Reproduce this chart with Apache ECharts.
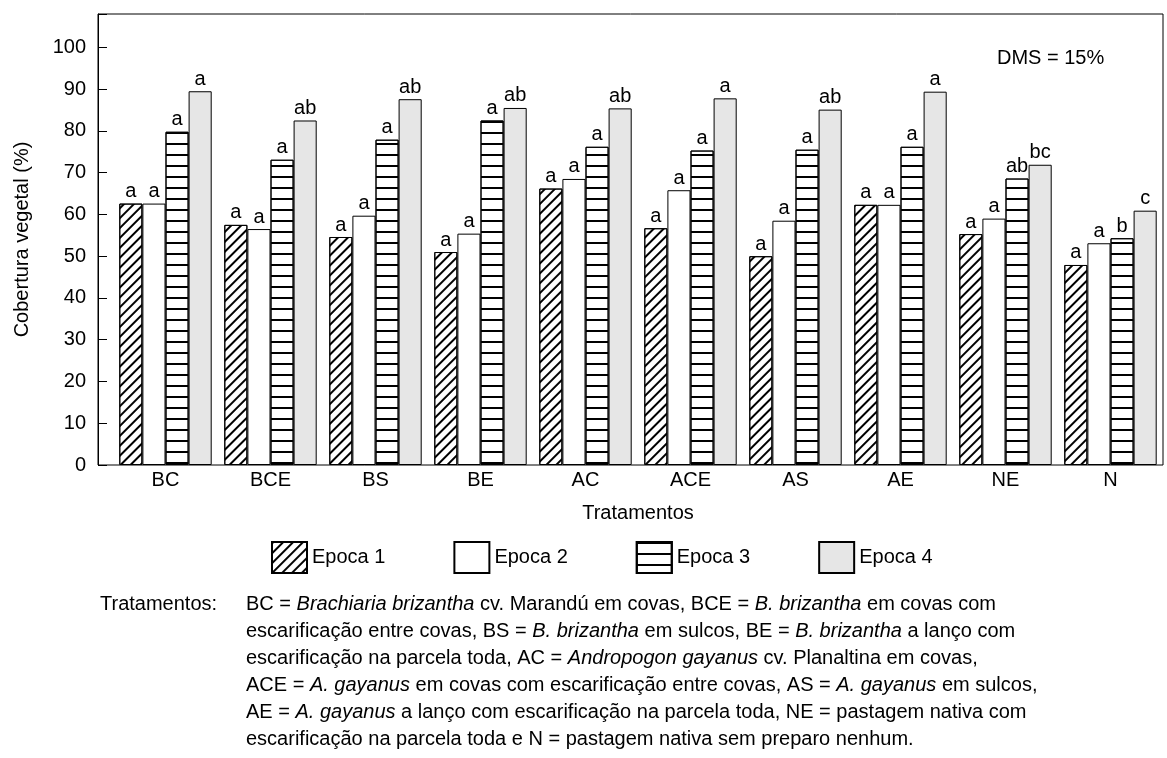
<!DOCTYPE html>
<html>
<head>
<meta charset="utf-8">
<script src="https://cdn.jsdelivr.net/npm/echarts@6/dist/echarts.min.js"></script>
<style>html,body{margin:0;padding:0;background:#fff}#c{width:1167px;height:758px}</style>
</head>
<body>
<div id="c"></div>
<script>
const categories = ['BC','BCE','BS','BE','AC','ACE','AS','AE','NE','N'];
const epoca1 = [62.6, 57.5, 54.6, 51.0, 66.2, 56.7, 50.0, 62.3, 55.3, 47.9];
const epoca2 = [62.6, 56.5, 59.7, 55.4, 68.5, 65.8, 58.5, 62.3, 59.0, 53.1];
const epoca3 = [79.8, 73.1, 77.9, 82.5, 76.2, 75.3, 75.5, 76.2, 68.6, 54.3];
const epoca4 = [89.5, 82.5, 87.6, 85.5, 85.4, 87.8, 85.1, 89.4, 71.9, 60.9];
const letters1 = ['a','a','a','a','a','a','a','a','a','a'];
const letters2 = ['a','a','a','a','a','a','a','a','a','a'];
const letters3 = ['a','a','a','a','a','a','a','a','ab','b'];
const letters4 = ['a','ab','ab','ab','ab','a','ab','a','bc','c'];
const seriesNames = ['Epoca 1','Epoca 2','Epoca 3','Epoca 4'];
const yTicks = [0,10,20,30,40,50,60,70,80,90,100];

const FONT = 'Liberation Sans, Arial, sans-serif';
const chart = echarts.init(document.getElementById('c'), null, {renderer: 'canvas'});

function mkSeries(name, data, letters, itemStyle) {
  return {
    name: name, type: 'bar', xAxisIndex: 1, yAxisIndex: 1,
    data: data, barGap: '0%', barCategoryGap: '12%',
    itemStyle: Object.assign({borderColor: '#000', borderWidth: 1}, itemStyle),
    label: {
      show: true, position: 'top', distance: 2, color: '#000',
      fontFamily: FONT, fontSize: 20,
      formatter: p => letters[p.dataIndex]
    },
    emphasis: {disabled: true},
    animation: false
  };
}

const option = {
  animation: false,
  textStyle: {fontFamily: FONT},
  grid: [
    {left: 98, right: 4, top: 14, bottom: 293, show: true, borderColor: '#000', borderWidth: 1, backgroundColor: 'transparent'},
    {left: 113, right: 4, top: 14, bottom: 293}
  ],
  title: {
    text: 'DMS = 15%', left: 992, top: 43,
    textStyle: {fontFamily: FONT, fontSize: 20, fontWeight: 'normal', color: '#000'}
  },
  legend: {
    left: 266, top: 536, itemWidth: 35, itemHeight: 31, itemGap: 68,
    icon: 'rect',
    textStyle: {fontFamily: FONT, fontSize: 20, color: '#000'},
    data: seriesNames
  },
  xAxis: [
    {gridIndex: 0, type: 'value', min: 0, max: 1, show: false},
    {
      gridIndex: 1, type: 'category', data: categories,
      axisLine: {show: false}, axisTick: {show: false},
      axisLabel: {fontFamily: FONT, fontSize: 20, color: '#000', margin: 5},
      name: 'Tratamentos', nameLocation: 'middle', nameGap: 38,
      nameTextStyle: {fontFamily: FONT, fontSize: 20, color: '#000'}
    }
  ],
  yAxis: [
    {
      gridIndex: 0, type: 'value', min: 0, max: 108, interval: 10,
      axisLine: {show: true, lineStyle: {color: '#000', width: 1}},
      axisTick: {show: true, inside: true, length: 9, lineStyle: {color: '#000'}},
      splitLine: {show: false},
      axisLabel: {
        fontFamily: FONT, fontSize: 20, color: '#000', margin: 12,
        formatter: v => (yTicks.indexOf(v) >= 0 ? String(v) : '')
      },
      name: 'Cobertura vegetal (%)', nameLocation: 'middle', nameGap: 66,
      nameTextStyle: {fontFamily: FONT, fontSize: 20, color: '#000'}
    },
    {gridIndex: 1, type: 'value', min: 0, max: 108, show: false}
  ],
  series: [
    mkSeries(seriesNames[0], epoca1, letters1, {
      color: '#fff',
      decal: {symbol: 'rect', symbolSize: 1, color: '#000', dashArrayX: [1, 0], dashArrayY: [1.6, 4.4], rotation: -Math.PI / 4}
    }),
    mkSeries(seriesNames[1], epoca2, letters2, {color: '#fff'}),
    mkSeries(seriesNames[2], epoca3, letters3, {
      color: '#fff',
      decal: {symbol: 'rect', symbolSize: 1, color: '#000', dashArrayX: [1, 0], dashArrayY: [1.8, 8.5], rotation: 0}
    }),
    mkSeries(seriesNames[3], epoca4, letters4, {color: '#e6e6e6'})
  ],
  graphic: [
    {
      type: 'text', left: 100, top: 591,
      style: {text: 'Tratamentos:', font: '20px ' + FONT, fill: '#000', lineHeight: 27}
    },
    {
      type: 'text', left: 246, top: 591,
      style: {
        text: [
          'BC = {i|Brachiaria brizantha} cv. Marandú em covas, BCE = {i|B. brizantha} em covas com',
          'escarificação entre covas, BS = {i|B. brizantha} em sulcos, BE = {i|B. brizantha} a lanço com',
          'escarificação na parcela toda, AC = {i|Andropogon gayanus} cv. Planaltina em covas,',
          'ACE = {i|A. gayanus} em covas com escarificação entre covas, AS = {i|A. gayanus} em sulcos,',
          'AE = {i|A. gayanus} a lanço com escarificação na parcela toda, NE = pastagem nativa com',
          'escarificação na parcela toda e N = pastagem nativa sem preparo nenhum.'
        ].join('\n'),
        font: '20px ' + FONT, fill: '#000', lineHeight: 27,
        rich: {i: {fontStyle: 'italic', fontFamily: FONT, fontSize: 20, lineHeight: 27, fill: '#000'}}
      }
    }
  ]
};
chart.setOption(option);
</script>
</body>
</html>
